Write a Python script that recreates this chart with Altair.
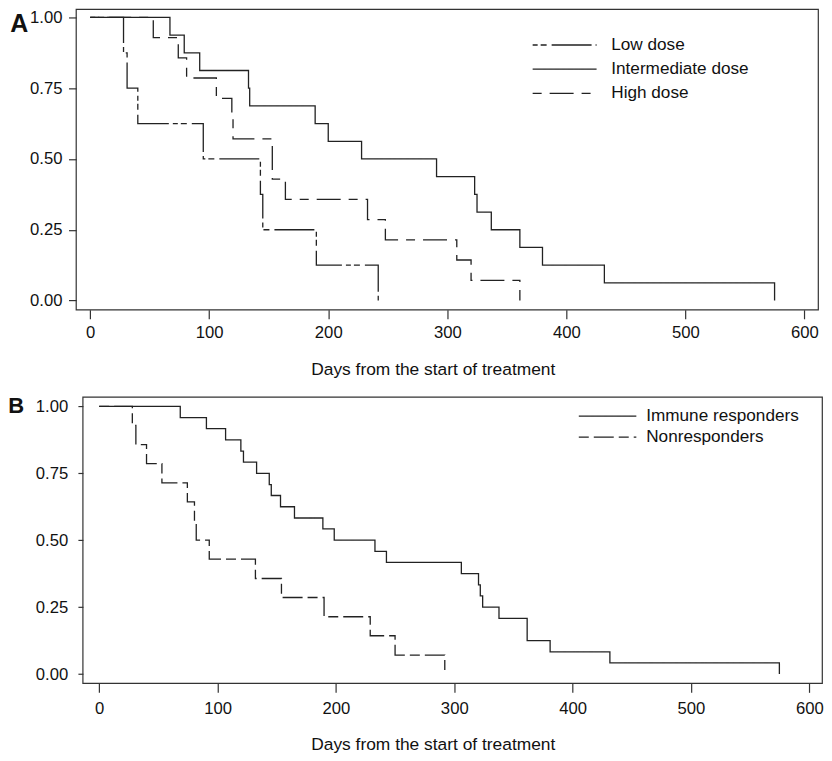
import altair as alt
import pandas as pd

FONT = "Liberation Sans"
TEXT = "#111111"
LINE = "#222222"
FRAME = "#333333"

# ---------------- Panel A : dose groups ----------------
dose_groups = ["Low dose", "Intermediate dose", "High dose"]
low_days = [0, 28, 31, 40, 95, 143, 145, 190, 242]
low_surv = [1.0, 0.875, 0.75, 0.625, 0.5, 0.375, 0.25, 0.125, 0.0]
mid_days = [0, 67, 79, 92, 133, 134, 189, 200, 228, 291, 323, 325, 337, 361, 380, 432, 575]
mid_surv = [1.0, 0.9375, 0.875, 0.8125, 0.75, 0.6875, 0.625, 0.5625, 0.5, 0.4375,
            0.375, 0.3125, 0.25, 0.1875, 0.125, 0.0625, 0.0]
high_days = [0, 53, 74, 81, 106, 119, 120, 153, 164, 233, 248, 308, 320, 361]
high_surv = [1.0, 0.929, 0.857, 0.786, 0.714, 0.643, 0.571, 0.429, 0.357, 0.286,
             0.214, 0.143, 0.071, 0.0]

# ---------------- Panel B : immune response ----------------
resp_groups = ["Immune responders", "Nonresponders"]
imm_days = [0, 68.5, 90.6, 106.8, 119.7, 121.9, 133, 143.7, 145.4, 153.2, 165, 189,
            198.6, 233, 242.7, 306, 320.5, 322, 324, 337.8, 361.6, 381, 431.5, 574.7]
imm_surv = [1.0, 0.958, 0.917, 0.875, 0.833, 0.792, 0.75, 0.708, 0.667, 0.625, 0.583,
            0.542, 0.5, 0.458, 0.417, 0.375, 0.333, 0.292, 0.25, 0.208, 0.125, 0.083,
            0.042, 0.0]
non_days = [0, 28, 31, 40, 53, 74.5, 80.5, 82, 93, 132, 154, 190, 229, 250, 292]
non_surv = [1.0, 0.929, 0.857, 0.786, 0.714, 0.643, 0.571, 0.5, 0.429, 0.357, 0.286,
            0.214, 0.143, 0.071, 0.0]

x_ticks = [0, 100, 200, 300, 400, 500, 600]
y_ticks = [0.0, 0.25, 0.5, 0.75, 1.0]
x_title = "Days from the start of treatment"


def frame(groups, days_list, surv_list):
    rows = []
    for g, ds, ss in zip(groups, days_list, surv_list):
        for d, s in zip(ds, ss):
            rows.append({"group": g, "day": d, "surv": s})
    return pd.DataFrame(rows)


df_a = frame(dose_groups, [low_days, mid_days, high_days], [low_surv, mid_surv, high_surv])
df_b = frame(resp_groups, [imm_days, non_days], [imm_surv, non_surv])


def panel(df, groups, dashes, letter, letter_x, letter_y, letter_size,
          width, height, xdom, ydom, box_left, xax, yax, leg):
    lines = alt.Chart(df).mark_line(
        interpolate="step-after", strokeWidth=1.3, color=LINE
    ).encode(
        x=alt.X("day:Q", scale=alt.Scale(domain=xdom, nice=False, zero=False),
                axis=alt.Axis(values=x_ticks, format="d", title=x_title,
                              titleAlign="center", titleBaseline="top", **xax)),
        y=alt.Y("surv:Q", scale=alt.Scale(domain=ydom, nice=False, zero=False),
                axis=alt.Axis(values=y_ticks, format=".2f", title=None, **yax)),
        strokeDash=alt.StrokeDash(
            "group:N",
            scale=alt.Scale(domain=groups, range=dashes),
            legend=alt.Legend(title=None, orient="none", padding=0,
                              symbolStrokeWidth=1.3, symbolStrokeColor=LINE,
                              labelFont=FONT, labelFontSize=17.2, labelColor=TEXT,
                              labelLimit=0, **leg),
        ),
        order=alt.Order("day:Q"),
    )
    # panel frame (box around the plotting region)
    box = alt.Chart(pd.DataFrame({"k": [0]})).mark_rect(
        fillOpacity=0, stroke=FRAME, strokeWidth=1.2
    ).encode(
        x=alt.value(box_left), x2=alt.value(width),
        y=alt.value(0), y2=alt.value(height),
    )
    lab = alt.Chart(pd.DataFrame({"t": [letter]})).mark_text(
        align="left", baseline="alphabetic", fontSize=letter_size,
        fontWeight="bold", font=FONT, color=TEXT
    ).encode(x=alt.value(letter_x), y=alt.value(letter_y), text="t:N")
    return alt.layer(box, lines, lab).properties(width=width, height=height)


chart_a = panel(
    df_a, dose_groups,
    [[5, 3, 6, 5, 40, 4], [1, 0], [9, 8, 24, 8]],
    "A", -72.7, 23, 25,
    736.3, 300.7, [-6.126, 611.74], [-0.03282, 1.02823], -6.7,
    dict(tickSize=9, labelPadding=5.7, titleX=350.3, titleY=50.9),
    dict(tickSize=7.7, labelPadding=6.6, offset=6.7),
    dict(legendX=473.3, legendY=26.6, symbolType="M-4,0H4", symbolSize=256,
         labelOffset=37.7, rowPadding=6.2),
)

chart_b = panel(
    df_b, resp_groups,
    [[1, 0], [10, 5, 20, 5]],
    "B", -74.7, 16, 22,
    740.3, 286.6, [-13.755, 610.97], [-0.0347, 1.0347], 0,
    dict(tickSize=9, labelPadding=8.4, titleX=350.3, titleY=51.9),
    dict(tickSize=5, labelPadding=10.2),
    dict(legendX=516.3, legendY=10, symbolType="M-3.6,0H3.6", symbolSize=256,
         labelOffset=29.7, rowPadding=3),
)

chart = alt.vconcat(chart_a, chart_b, spacing=17.1).resolve_scale(
    x="independent", y="independent", strokeDash="independent"
).resolve_legend(strokeDash="independent").properties(
    padding=0, background="white"
).configure_view(
    stroke="transparent", strokeWidth=0
).configure_axis(
    labelFont=FONT, titleFont=FONT, labelFontSize=16.7, titleFontSize=17.4,
    labelColor=TEXT, titleColor=TEXT, titleFontWeight="normal",
    tickColor=FRAME, tickWidth=1.2, grid=False, domain=False,
)

chart.save("out.html", embed_options={"renderer": "svg", "actions": False})
